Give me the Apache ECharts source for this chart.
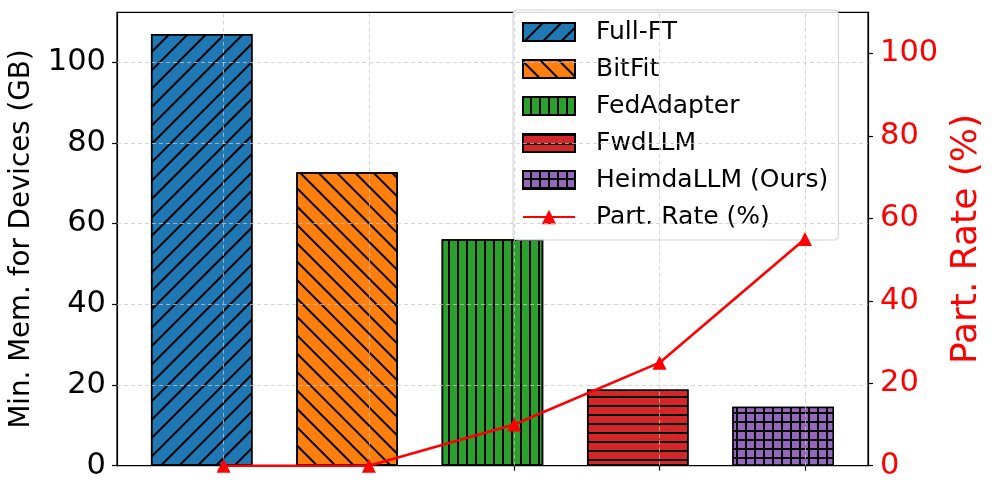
<!DOCTYPE html>
<html>
<head>
<meta charset="utf-8">
<script src="https://cdn.jsdelivr.net/npm/echarts@6/dist/echarts.min.js"></script>
<style>
html, body { margin: 0; padding: 0; background: #fff; }
#main { width: 996px; height: 496px; }
</style>
</head>
<body>
<div id="main"></div>
<script>
// methods, their x slot, memory (GB, left axis) and participation rate (%, right axis)
var methods = ['Full-FT', 'BitFit', 'FedAdapter', 'FwdLLM', 'HeimdaLLM (Ours)'];
var slots = [0, 1, 2, 3, 4];
var memGB = [107, 72.7, 56.1, 18.9, 14.6];
var partRate = [0, 0, 10, 25, 55];
var memTicks = [20, 40, 60, 80, 100];
var colors = ['#1f77b4', '#ff7f0e', '#2ca02c', '#d62728', '#9467bd'];

var FONT = 'DejaVu Sans';
var BAR_SHIFT = -0.15; // bars sit a bit left of the ticks in the original
var myChart = echarts.init(document.getElementById('main'));

// hatch patterns like matplotlib '/', '\\', '|', '-', '+'
var hatches = [
    {symbol: 'rect', symbolSize: 1, dashArrayX: [1, 0], dashArrayY: [1.4, 11], rotation: -Math.PI / 4, color: '#000'},
    {symbol: 'rect', symbolSize: 1, dashArrayX: [1, 0], dashArrayY: [1.4, 11], rotation: Math.PI / 4, color: '#000'},
    {symbol: 'rect', symbolSize: 1, dashArrayX: [1, 0], dashArrayY: [1.5, 6.8], rotation: Math.PI / 2, color: '#000'},
    {symbol: 'rect', symbolSize: 1, dashArrayX: [1, 0], dashArrayY: [1.5, 6.9], color: '#000'},
    {symbol: 'rect', symbolSize: 1, dashArrayX: [6.8, 1.5], dashArrayY: [6.8, 1.5], color: colors[4]}
];

var series = methods.map(function (name, i) {
    return {
        name: name,
        type: 'bar',
        xAxisIndex: 0,
        yAxisIndex: 0,
        barWidth: 101.6,
        barGap: '-100%',
        data: [[slots[i] + BAR_SHIFT, memGB[i]]],
        itemStyle: {
            // the '+' bar is drawn as black with purple squares on top
            color: i === 4 ? '#000' : colors[i],
            borderColor: '#000',
            borderWidth: 1.5,
            decal: hatches[i]
        },
        emphasis: {disabled: true}
    };
});

// dashed grid drawn above the bars, like the original
series[0].markLine = {
    silent: true,
    symbol: 'none',
    label: {show: false},
    emphasis: {disabled: true},
    lineStyle: {color: 'rgba(200,200,200,0.75)', width: 1, type: [4, 3]},
    data: slots.map(function (x) { return {xAxis: x}; })
        .concat(memTicks.map(function (v) { return {yAxis: v}; }))
};

series.push({
    name: 'Part. Rate (%)',
    type: 'line',
    xAxisIndex: 0,
    yAxisIndex: 1,
    data: slots.map(function (x, i) { return [x, partRate[i]]; }),
    symbol: 'triangle',
    symbolSize: 14,
    lineStyle: {color: '#ff0000', width: 2.6},
    itemStyle: {color: '#ff0000'},
    emphasis: {disabled: true},
    z: 6
});

option = {
    backgroundColor: '#fff',
    animation: false,
    grid: {
        left: 116.7, right: 128, top: 12.3, bottom: 30.3,
        show: true, borderColor: '#000', borderWidth: 1.2, backgroundColor: 'transparent'
    },
    legend: {
        data: methods.map(function (m) { return {name: m, icon: 'rect'}; })
            .concat([{name: 'Part. Rate (%)'}]),
        orient: 'vertical',
        left: 513,
        top: 10,
        itemWidth: 52,
        itemHeight: 18,
        itemGap: 12,
        padding: [9.5, 10, 10.5, 9],
        backgroundColor: 'rgba(255,255,255,0.85)',
        borderColor: '#d0d0d0',
        borderWidth: 1,
        borderRadius: 4,
        selectedMode: false,
        textStyle: {fontFamily: FONT, fontSize: 25, color: '#000', lineHeight: 25, padding: [0, 0, 0, 16]}
    },
    xAxis: {
        type: 'value',
        min: -0.733,
        max: 4.434,
        axisLine: {show: true, onZero: false, lineStyle: {color: '#000', width: 1.2}},
        axisTick: {show: true, length: 5, customValues: slots, lineStyle: {color: '#000', width: 1.2}},
        axisLabel: {show: false},
        splitLine: {show: false}
    },
    yAxis: [
        {
            type: 'value',
            min: 0,
            max: 112.35,
            interval: 20,
            name: 'Min. Mem. for Devices (GB)',
            nameLocation: 'middle',
            nameRotate: 90,
            nameGap: 81,
            nameTextStyle: {fontFamily: FONT, fontSize: 27.7, color: '#000'},
            axisLine: {show: true, onZero: false, lineStyle: {color: '#000', width: 1.2}},
            axisTick: {show: true, length: 5, lineStyle: {color: '#000', width: 1.2}},
            axisLabel: {fontFamily: FONT, fontSize: 30.5, color: '#000', margin: 11, showMaxLabel: false},
            splitLine: {show: false}
        },
        {
            type: 'value',
            min: 0,
            max: 110,
            interval: 20,
            position: 'right',
            name: 'Part. Rate (%)',
            nameLocation: 'middle',
            nameRotate: 90,
            nameGap: 78,
            nameTextStyle: {fontFamily: FONT, fontSize: 36, color: '#ff0000'},
            axisLine: {show: true, onZero: false, lineStyle: {color: '#000', width: 1.2}},
            axisTick: {show: true, length: 5, lineStyle: {color: '#000', width: 1.2}},
            axisLabel: {fontFamily: FONT, fontSize: 30.5, color: '#ff0000', margin: 12, showMaxLabel: false},
            splitLine: {show: false}
        }
    ],
    series: series
};

myChart.setOption(option);
</script>
</body>
</html>
